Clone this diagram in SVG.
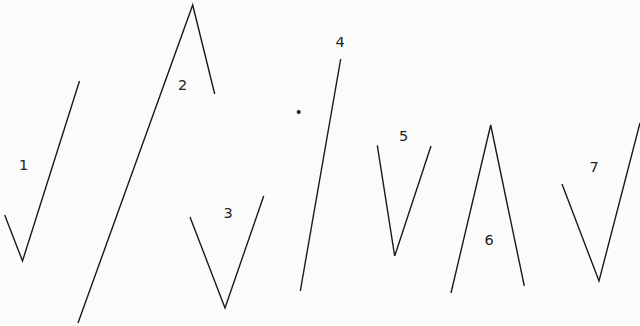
<svg xmlns="http://www.w3.org/2000/svg" width="640" height="326" viewBox="0 0 640 326">
<style>
.ln{fill:none;stroke:#1a1a1a;stroke-width:1.4;stroke-linejoin:miter}
.lb{font-family:"DejaVu Sans","Liberation Sans",sans-serif;font-size:14.5px;fill:#222;text-anchor:middle}
</style>
<rect width="640" height="326" fill="#fbfbfb"/>
<g id="connectors">
<polyline id="c1" class="ln" points="4.7,215 22.5,261 79.5,81"/>
<polyline id="c2" class="ln" points="78,323 192.7,5 214.7,94"/>
<polyline id="c3" class="ln" points="190,217 225,308 263.7,196"/>
<polyline id="c4" class="ln" points="340.7,59 300.3,291"/>
<polyline id="c5" class="ln" points="377.3,145.3 394.7,256 431,146"/>
<polyline id="c6" class="ln" points="451,293 490.7,125 524.3,286"/>
<polyline id="c7" class="ln" points="562,184 599,281 640,123"/>
</g>
<g id="n1"><text class="lb" x="23.5" y="169.5">1</text></g>
<g id="n2"><text class="lb" x="182.5" y="89.5">2</text></g>
<g id="n3"><text class="lb" x="228" y="217.5">3</text></g>
<g id="dot"><circle cx="298.7" cy="112" r="2" fill="#1a1a1a"/></g>
<g id="n4"><text class="lb" x="340" y="46.5">4</text></g>
<g id="n5"><text class="lb" x="403.5" y="140.5">5</text></g>
<g id="n6"><text class="lb" x="489" y="244.5">6</text></g>
<g id="n7"><text class="lb" x="594" y="171.5">7</text></g>
</svg>
